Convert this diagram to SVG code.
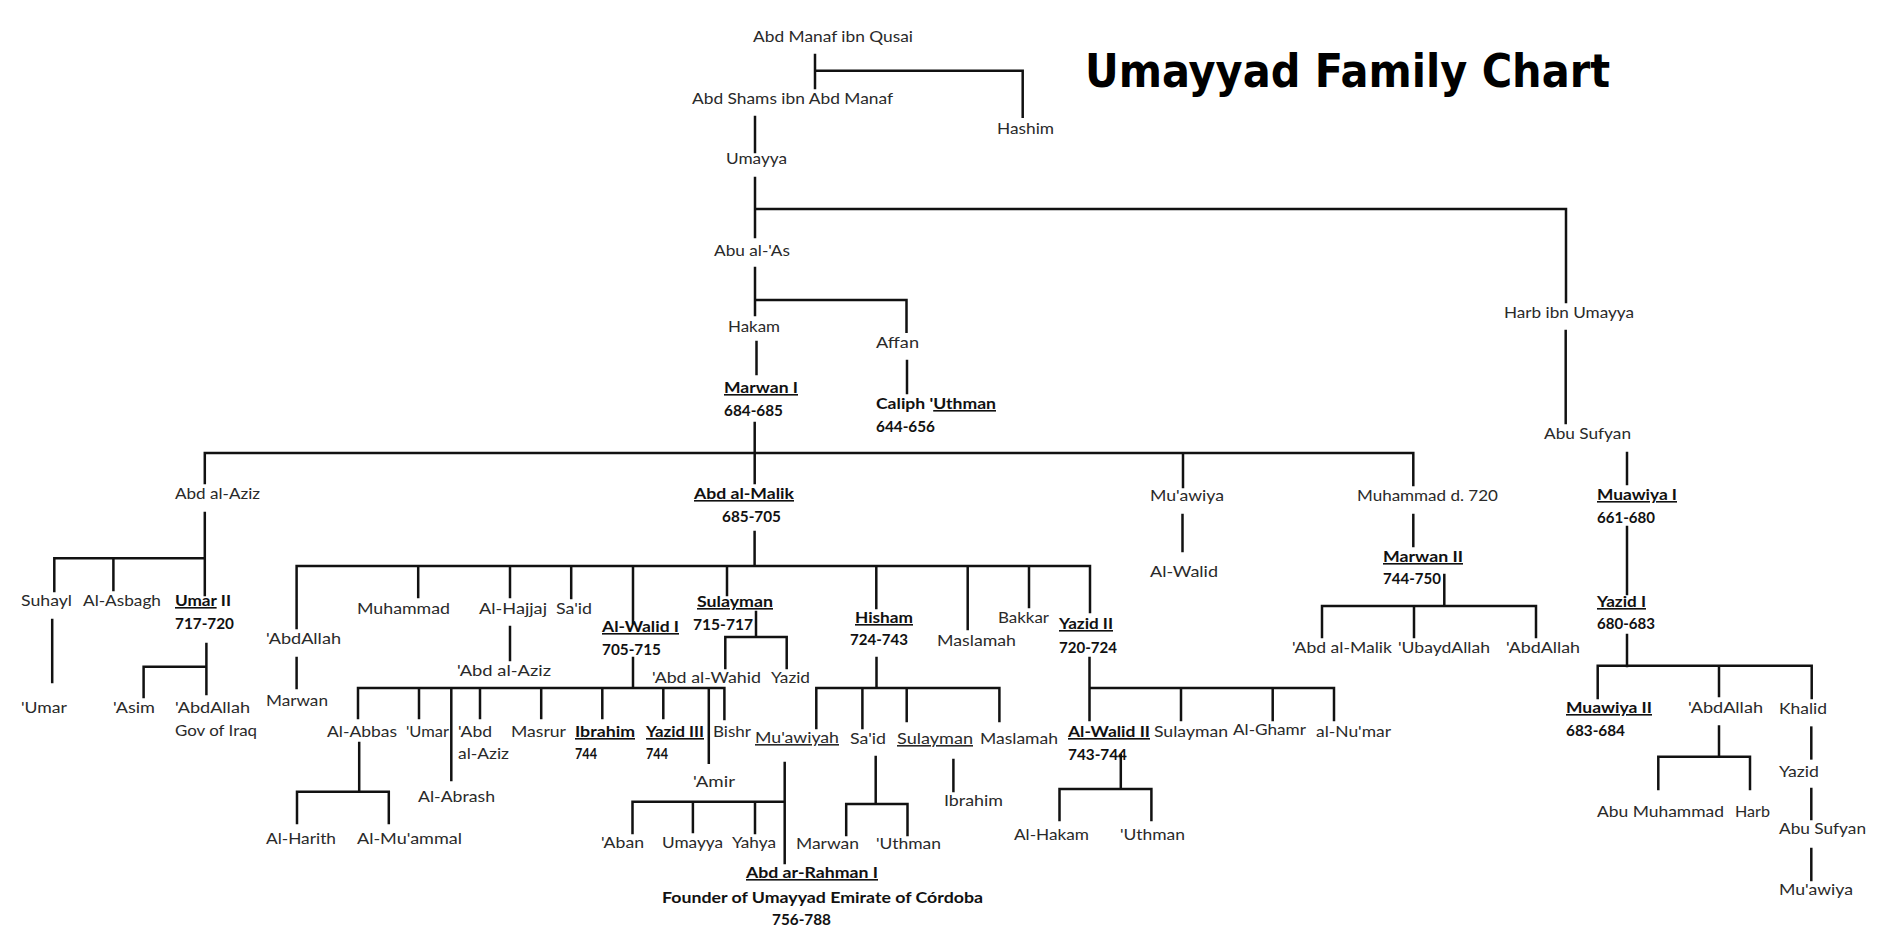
<svg xmlns="http://www.w3.org/2000/svg" width="1898" height="941" viewBox="0 0 1898 941">
<style>
text { font-family: Lato, "Open Sans", "Liberation Sans", sans-serif; font-size: 16px; fill: #2a2a2a; }
.b { font-weight: bold; fill: #111; }
.u { text-decoration: underline; }
.title { font-family: "DejaVu Sans Condensed", "Liberation Sans", sans-serif; font-weight: bold; font-size: 47px; fill: #000; }
.c { fill: none; stroke: #111; stroke-width: 2.5; stroke-linecap: square; }
</style>
<rect width="1898" height="941" fill="#fff"/>
<text class="title" x="1085" y="87" textLength="525" lengthAdjust="spacingAndGlyphs">Umayyad Family Chart</text>

<g id="connectors">
<path class="c" d="M815,55 V88 M815,70.7 H1022.7 V116.7"/>
<path class="c" d="M755,117 V152"/>
<path class="c" d="M755,178 V237 M755,209 H1566 V302"/>
<path class="c" d="M755,268 V315 M755,300 H906.5 V331.7"/>
<path class="c" d="M756.5,342 V374"/>
<path class="c" d="M907,361 V393"/>
<path class="c" d="M1565.7,331 V423"/>
<path class="c" d="M754.7,423 V483 M204.8,453 H1413.3 M204.8,453 V483 M1183,453 V487 M1413.3,453 V485"/>
<path class="c" d="M204.8,513 V595 M54.3,558.3 H204.8 M54.3,558.3 V591 M113.4,558.3 V590"/>
<path class="c" d="M52.2,620 V682"/>
<path class="c" d="M206.4,644 V694 M143.6,666.7 H206.4 M143.6,666.7 V697"/>
<path class="c" d="M754.6,532 V566 M296.6,566 H1090 M296.6,566 V628 M418.2,566 V597 M510,566 V597 M571.2,566 V598 M633,566 V623 M727,566 V595 M876.3,566 V608 M967.7,566 V629 M1029,566 V607 M1090,566 V612"/>
<path class="c" d="M296.6,658 V688"/>
<path class="c" d="M510,627 V660"/>
<path class="c" d="M633,658 V688 M358,688 H724.4 M358,688 V718 M419,688 V718 M451.3,688 V780 M480,688 V718 M541.2,688 V718 M602.3,688 V718 M663.3,688 V718 M708.8,688 V762.7 M724.4,688 V719"/>
<path class="c" d="M756,612 V637 M725.3,637 H786.7 M725.3,637 V668 M786.7,637 V668"/>
<path class="c" d="M876.5,658 V688 M816.3,688 H999.4 M816.3,688 V728 M862.4,688 V728 M906.7,688 V721 M999.4,688 V721"/>
<path class="c" d="M1089.5,658 V720 M1089.5,688 H1334 M1181,688 V720 M1272.7,688 V720 M1334,688 V720"/>
<path class="c" d="M1120.8,755 V789 M1059.5,789 H1151.4 M1059.5,789 V820 M1151.4,789 V820"/>
<path class="c" d="M1182.5,515 V551"/>
<path class="c" d="M1413.3,515 V546"/>
<path class="c" d="M1444.3,575 V606 M1322,606 H1536 M1322,606 V637 M1414,606 V637 M1536,606 V637"/>
<path class="c" d="M359.2,743 V791.7 M297,791.7 H388.8 M297,791.7 V823 M388.8,791.7 V823"/>
<path class="c" d="M784.7,763 V863 M632.5,801.7 H784.7 M632.5,801.7 V833 M692.9,801.7 V832 M755,801.7 V833"/>
<path class="c" d="M875.7,757 V804 M846.2,804 H907.5 M846.2,804 V835 M907.5,804 V835"/>
<path class="c" d="M953.4,760 V791"/>
<path class="c" d="M1627,453 V484"/>
<path class="c" d="M1627,527 V594"/>
<path class="c" d="M1627,635 V666 M1597.7,665.8 H1811.7 M1597.7,665.8 V698 M1719,665.8 V696 M1811.7,665.8 V698"/>
<path class="c" d="M1719,726.5 V756.7 M1658.3,756.7 H1750 M1658.3,756.7 V789 M1750,756.7 V789"/>
<path class="c" d="M1811.3,727.6 V758.4"/>
<path class="c" d="M1811.3,789 V819"/>
<path class="c" d="M1811.3,849 V880"/>
</g>

<g id="n-abd-manaf"><text x="753" y="42" textLength="160" lengthAdjust="spacingAndGlyphs">Abd Manaf ibn Qusai</text></g>
<g id="n-abd-shams"><text x="692" y="103.5" textLength="201" lengthAdjust="spacingAndGlyphs">Abd Shams ibn Abd Manaf</text></g>
<g id="n-hashim"><text x="997" y="134" textLength="57" lengthAdjust="spacingAndGlyphs">Hashim</text></g>
<g id="n-umayya"><text x="726" y="164" textLength="61" lengthAdjust="spacingAndGlyphs">Umayya</text></g>
<g id="n-abu-al-as"><text x="714" y="256" textLength="76" lengthAdjust="spacingAndGlyphs">Abu al-'As</text></g>
<g id="n-hakam"><text x="728" y="332" textLength="52" lengthAdjust="spacingAndGlyphs">Hakam</text></g>
<g id="n-affan"><text x="876" y="348" textLength="43" lengthAdjust="spacingAndGlyphs">Affan</text></g>
<g id="n-harb"><text x="1504" y="318" textLength="130" lengthAdjust="spacingAndGlyphs">Harb ibn Umayya</text></g>
<g id="n-abu-sufyan"><text x="1544" y="439" textLength="87" lengthAdjust="spacingAndGlyphs">Abu Sufyan</text></g>

<g id="n-marwan1"><text class="b u" x="724" y="393" textLength="74" lengthAdjust="spacingAndGlyphs">Marwan I</text><text class="b" x="724" y="416" textLength="59" lengthAdjust="spacingAndGlyphs">684-685</text></g>
<g id="n-uthman"><text class="b" x="876" y="409" textLength="120" lengthAdjust="spacingAndGlyphs">Caliph '<tspan class="u">Uthman</tspan></text><text class="b" x="876" y="432" textLength="59" lengthAdjust="spacingAndGlyphs">644-656</text></g>

<g id="n-abd-al-aziz"><text x="175" y="499" textLength="85" lengthAdjust="spacingAndGlyphs">Abd al-Aziz</text></g>
<g id="n-abd-al-malik"><text class="b u" x="694" y="499" textLength="100" lengthAdjust="spacingAndGlyphs">Abd al-Malik</text><text class="b" x="722" y="522" textLength="59" lengthAdjust="spacingAndGlyphs">685-705</text></g>
<g id="n-muawiya-m"><text x="1150" y="501" textLength="74" lengthAdjust="spacingAndGlyphs">Mu'awiya</text></g>
<g id="n-muhammad-720"><text x="1357" y="501" textLength="141" lengthAdjust="spacingAndGlyphs">Muhammad d. 720</text></g>
<g id="n-al-walid-m"><text x="1150" y="577" textLength="68" lengthAdjust="spacingAndGlyphs">Al-Walid</text></g>
<g id="n-marwan2"><text class="b u" x="1383" y="562" textLength="80" lengthAdjust="spacingAndGlyphs">Marwan II</text><text class="b" x="1383" y="584" textLength="58" lengthAdjust="spacingAndGlyphs">744-750</text></g>
<g id="n-m2-abd-al-malik"><text x="1292" y="653" textLength="100" lengthAdjust="spacingAndGlyphs">'Abd al-Malik</text></g>
<g id="n-m2-ubaydallah"><text x="1398" y="653" textLength="92" lengthAdjust="spacingAndGlyphs">'UbaydAllah</text></g>
<g id="n-m2-abdallah"><text x="1506" y="653" textLength="74" lengthAdjust="spacingAndGlyphs">'AbdAllah</text></g>

<g id="n-suhayl"><text x="21" y="606" textLength="51" lengthAdjust="spacingAndGlyphs">Suhayl</text></g>
<g id="n-al-asbagh"><text x="83" y="606" textLength="78" lengthAdjust="spacingAndGlyphs">Al-Asbagh</text></g>
<g id="n-umar2"><text class="b" x="175" y="606" textLength="56" lengthAdjust="spacingAndGlyphs"><tspan class="u">Umar</tspan> II</text><text class="b" x="175" y="629" textLength="59" lengthAdjust="spacingAndGlyphs">717-720</text></g>
<g id="n-s-umar"><text x="21" y="713" textLength="46" lengthAdjust="spacingAndGlyphs">'Umar</text></g>
<g id="n-asim"><text x="113" y="713" textLength="42" lengthAdjust="spacingAndGlyphs">'Asim</text></g>
<g id="n-u-abdallah"><text x="175" y="713" textLength="75" lengthAdjust="spacingAndGlyphs">'AbdAllah</text><text x="175" y="736" textLength="82" lengthAdjust="spacingAndGlyphs">Gov of Iraq</text></g>

<g id="n-am-abdallah"><text x="266" y="644" textLength="75" lengthAdjust="spacingAndGlyphs">'AbdAllah</text></g>
<g id="n-am-marwan"><text x="266" y="706" textLength="62" lengthAdjust="spacingAndGlyphs">Marwan</text></g>
<g id="n-am-muhammad"><text x="357" y="614" textLength="93" lengthAdjust="spacingAndGlyphs">Muhammad</text></g>
<g id="n-al-hajjaj"><text x="479" y="614" textLength="68" lengthAdjust="spacingAndGlyphs">Al-Hajjaj</text></g>
<g id="n-am-said"><text x="556" y="614" textLength="36" lengthAdjust="spacingAndGlyphs">Sa'id</text></g>
<g id="n-h-abd-al-aziz"><text x="457" y="676" textLength="94" lengthAdjust="spacingAndGlyphs">'Abd al-Aziz</text></g>
<g id="n-al-walid1"><text class="b u" x="602" y="632" textLength="77" lengthAdjust="spacingAndGlyphs">Al-Walid I</text><text class="b" x="602" y="655" textLength="59" lengthAdjust="spacingAndGlyphs">705-715</text></g>
<g id="n-sulayman"><text class="b u" x="697" y="607" textLength="76" lengthAdjust="spacingAndGlyphs">Sulayman</text><text class="b" x="693" y="630" textLength="60" lengthAdjust="spacingAndGlyphs">715-717</text></g>
<g id="n-abd-al-wahid"><text x="652" y="683" textLength="109" lengthAdjust="spacingAndGlyphs">'Abd al-Wahid</text></g>
<g id="n-s-yazid"><text x="771" y="683" textLength="39" lengthAdjust="spacingAndGlyphs">Yazid</text></g>
<g id="n-hisham"><text class="b u" x="855" y="623" textLength="58" lengthAdjust="spacingAndGlyphs">Hisham</text><text class="b" x="850" y="645" textLength="58" lengthAdjust="spacingAndGlyphs">724-743</text></g>
<g id="n-am-maslamah"><text x="937" y="646" textLength="79" lengthAdjust="spacingAndGlyphs">Maslamah</text></g>
<g id="n-bakkar"><text x="998" y="623" textLength="51" lengthAdjust="spacingAndGlyphs">Bakkar</text></g>
<g id="n-yazid2"><text class="b u" x="1059" y="629" textLength="54" lengthAdjust="spacingAndGlyphs">Yazid II</text><text class="b" x="1059" y="653" textLength="58" lengthAdjust="spacingAndGlyphs">720-724</text></g>

<g id="n-al-abbas"><text x="327" y="737" textLength="70" lengthAdjust="spacingAndGlyphs">Al-Abbas</text></g>
<g id="n-w-umar"><text x="406" y="737" textLength="43" lengthAdjust="spacingAndGlyphs">'Umar</text></g>
<g id="n-w-abd-al-aziz"><text x="458" y="737" textLength="34" lengthAdjust="spacingAndGlyphs">'Abd</text><text x="458" y="759" textLength="51" lengthAdjust="spacingAndGlyphs">al-Aziz</text></g>
<g id="n-masrur"><text x="511" y="737" textLength="55" lengthAdjust="spacingAndGlyphs">Masrur</text></g>
<g id="n-ibrahim-744"><text class="b u" x="575" y="737" textLength="60" lengthAdjust="spacingAndGlyphs">Ibrahim</text><text class="b" x="575" y="759" textLength="22" lengthAdjust="spacingAndGlyphs">744</text></g>
<g id="n-yazid3"><text class="b u" x="646" y="737" textLength="58" lengthAdjust="spacingAndGlyphs">Yazid III</text><text class="b" x="646" y="759" textLength="22" lengthAdjust="spacingAndGlyphs">744</text></g>
<g id="n-bishr"><text x="713" y="737" textLength="38" lengthAdjust="spacingAndGlyphs">Bishr</text></g>
<g id="n-al-abrash"><text x="418" y="802" textLength="77" lengthAdjust="spacingAndGlyphs">Al-Abrash</text></g>
<g id="n-amir"><text x="693" y="787" textLength="42" lengthAdjust="spacingAndGlyphs">'Amir</text></g>
<g id="n-al-harith"><text x="266" y="844" textLength="70" lengthAdjust="spacingAndGlyphs">Al-Harith</text></g>
<g id="n-al-muammal"><text x="357" y="844" textLength="105" lengthAdjust="spacingAndGlyphs">Al-Mu'ammal</text></g>

<g id="n-h-muawiyah"><text class="u" x="755" y="743" textLength="84" lengthAdjust="spacingAndGlyphs">Mu'awiyah</text></g>
<g id="n-h-said"><text x="850" y="744" textLength="36" lengthAdjust="spacingAndGlyphs">Sa'id</text></g>
<g id="n-h-sulayman"><text class="u" x="897" y="744" textLength="76" lengthAdjust="spacingAndGlyphs">Sulayman</text></g>
<g id="n-h-maslamah"><text x="980" y="744" textLength="78" lengthAdjust="spacingAndGlyphs">Maslamah</text></g>
<g id="n-aban"><text x="601" y="848" textLength="43" lengthAdjust="spacingAndGlyphs">'Aban</text></g>
<g id="n-mu-umayya"><text x="662" y="848" textLength="61" lengthAdjust="spacingAndGlyphs">Umayya</text></g>
<g id="n-yahya"><text x="732" y="848" textLength="44" lengthAdjust="spacingAndGlyphs">Yahya</text></g>
<g id="n-abd-ar-rahman"><text class="b u" x="746" y="878" textLength="132" lengthAdjust="spacingAndGlyphs">Abd ar-Rahman I</text><text class="b" x="662" y="903" textLength="321" lengthAdjust="spacingAndGlyphs">Founder of Umayyad Emirate of Córdoba</text><text class="b" x="772" y="925" textLength="59" lengthAdjust="spacingAndGlyphs">756-788</text></g>
<g id="n-sa-marwan"><text x="796" y="849" textLength="63" lengthAdjust="spacingAndGlyphs">Marwan</text></g>
<g id="n-sa-uthman"><text x="876" y="849" textLength="65" lengthAdjust="spacingAndGlyphs">'Uthman</text></g>
<g id="n-su-ibrahim"><text x="944" y="806" textLength="59" lengthAdjust="spacingAndGlyphs">Ibrahim</text></g>

<g id="n-al-walid2"><text class="b u" x="1068" y="737" textLength="82" lengthAdjust="spacingAndGlyphs">Al-Walid II</text><text class="b" x="1068" y="760" textLength="59" lengthAdjust="spacingAndGlyphs">743-744</text></g>
<g id="n-y-sulayman"><text x="1154" y="737" textLength="74" lengthAdjust="spacingAndGlyphs">Sulayman</text></g>
<g id="n-al-ghamr"><text x="1233" y="735" textLength="73" lengthAdjust="spacingAndGlyphs">Al-Ghamr</text></g>
<g id="n-al-numan"><text x="1316" y="737" textLength="75" lengthAdjust="spacingAndGlyphs">al-Nu'mar</text></g>
<g id="n-al-hakam"><text x="1014" y="840" textLength="75" lengthAdjust="spacingAndGlyphs">Al-Hakam</text></g>
<g id="n-w2-uthman"><text x="1120" y="840" textLength="65" lengthAdjust="spacingAndGlyphs">'Uthman</text></g>

<g id="n-muawiya1"><text class="b u" x="1597" y="500" textLength="80" lengthAdjust="spacingAndGlyphs">Muawiya I</text><text class="b" x="1597" y="523" textLength="58" lengthAdjust="spacingAndGlyphs">661-680</text></g>
<g id="n-yazid1"><text class="b u" x="1597" y="607" textLength="49" lengthAdjust="spacingAndGlyphs">Yazid I</text><text class="b" x="1597" y="629" textLength="58" lengthAdjust="spacingAndGlyphs">680-683</text></g>
<g id="n-muawiya2"><text class="b u" x="1566" y="713" textLength="86" lengthAdjust="spacingAndGlyphs">Muawiya II</text><text class="b" x="1566" y="735.5" textLength="59" lengthAdjust="spacingAndGlyphs">683-684</text></g>
<g id="n-y1-abdallah"><text x="1688" y="713" textLength="75" lengthAdjust="spacingAndGlyphs">'AbdAllah</text></g>
<g id="n-khalid"><text x="1779" y="714" textLength="48" lengthAdjust="spacingAndGlyphs">Khalid</text></g>
<g id="n-abu-muhammad"><text x="1597" y="817" textLength="127" lengthAdjust="spacingAndGlyphs">Abu Muhammad</text></g>
<g id="n-harb2"><text x="1735" y="817" textLength="35" lengthAdjust="spacingAndGlyphs">Harb</text></g>
<g id="n-k-yazid"><text x="1779" y="777" textLength="40" lengthAdjust="spacingAndGlyphs">Yazid</text></g>
<g id="n-k-abu-sufyan"><text x="1779" y="834" textLength="87" lengthAdjust="spacingAndGlyphs">Abu Sufyan</text></g>
<g id="n-k-muawiya"><text x="1779" y="895" textLength="74" lengthAdjust="spacingAndGlyphs">Mu'awiya</text></g>
</svg>
